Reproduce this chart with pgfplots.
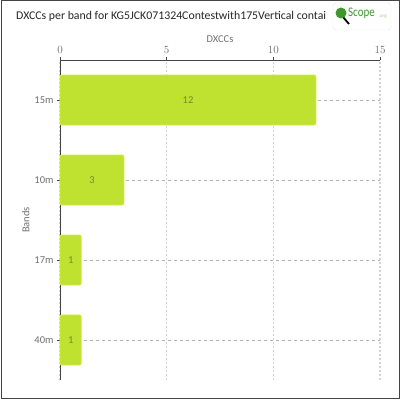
\documentclass[border=0pt]{standalone}
\usepackage{pgfplots}
\pgfplotsset{compat=1.18}
\usepackage{fontspec}
\setmainfont{Carlito}
\definecolor{barfill}{HTML}{BFE12F}
\definecolor{baredge}{HTML}{D3EE3C}
\definecolor{barlab}{HTML}{728A38}
\definecolor{txtgray}{HTML}{707070}
\definecolor{axgray}{HTML}{444444}
\definecolor{logogreen}{HTML}{3C9A2C}

\begin{document}
\begin{tikzpicture}
\useasboundingbox (0,0) rectangle (400pt,400pt);
\draw[axgray, line width=1pt] (1pt,1pt) rectangle (399pt,399pt);

% title
\node[anchor=west, inner sep=0pt, text=black!85, font=\fontsize{11.8}{14}\selectfont] at (16pt,384pt)
  {DXCCs per band for KG5JCK071324Contestwith175Vertical contai};

% logo
\draw[draw=yellow!20!gray!25, fill=white, rounded corners=3pt] (333pt,370pt) rectangle (391pt,397pt);
\draw[black, line width=1.8pt] (343pt,383pt) -- (349pt,376pt);
\fill[logogreen] (341pt,387pt) circle (5.5pt);
\node[anchor=west, inner sep=0pt, text=logogreen, yscale=1.2, font=\fontsize{11}{12}\selectfont] at (348pt,387pt) {Scope};
\node[anchor=west, inner sep=0pt, text=logogreen!50, font=\fontsize{5}{6}\selectfont] at (378.5pt,383pt) {.org};

\begin{axis}[
  at={(60pt,20pt)}, anchor=south west,
  width=320pt, height=320pt, scale only axis,
  xmin=0, xmax=15, ymin=-0.5, ymax=3.5,
  axis x line*=top, axis y line*=left,
  axis line style={axgray, line width=0.8pt, -},
  xtick={0,5,10,15},
  ytick={0,1,2,3},
  yticklabels={40m,17m,10m,15m},
  tick style={axgray, line width=0.8pt},
  tick align=outside,
  major tick length=3pt,
  xmajorgrids, ymajorgrids,
  x grid style={gray!35, line width=1.2pt, dash pattern=on 2pt off 2pt},
  y grid style={gray!60, line width=0.6pt, dash pattern=on 3pt off 3pt},
  ticklabel style={text=txtgray, font=\fontsize{10.5}{12}\selectfont},
  xlabel={DXCCs}, ylabel={Bands},
  label style={text=txtgray, font=\fontsize{10.5}{12}\selectfont},
  xlabel style={yshift=-3pt},
  ylabel style={yshift=-2pt},
  clip=false,
]
\addplot[xbar, bar width=50pt, fill=barfill, draw=baredge, line width=0.8pt, rounded corners=2pt]
  coordinates {(1,0) (1,1) (3,2) (12,3)};
\addplot[draw=none, mark=none, nodes near coords, point meta=explicit symbolic,
  every node near coord/.append style={anchor=center, text=barlab, font=\fontsize{10.5}{12}\selectfont}]
  coordinates {(0.5,0)[1] (0.5,1)[1] (1.5,2)[3] (6,3)[12]};
\end{axis}
\end{tikzpicture}
\end{document}
